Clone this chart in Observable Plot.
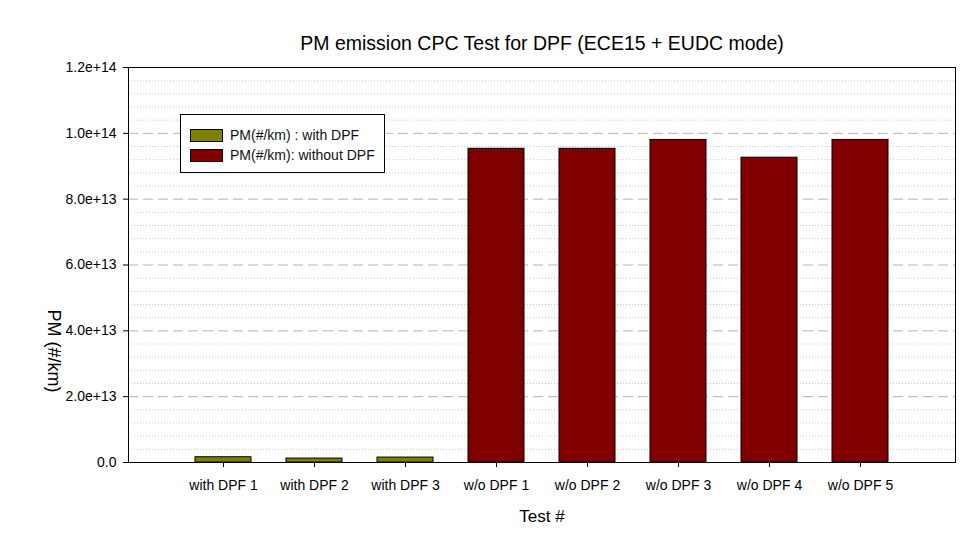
<!DOCTYPE html>
<html>
<head>
<meta charset="utf-8">
<script src="https://cdn.jsdelivr.net/npm/d3@7"></script>
<script src="https://cdn.jsdelivr.net/npm/@observablehq/plot@0.6"></script>
<style>
  html, body { margin: 0; padding: 0; background: #fff; }
  #wrap { position: relative; width: 975px; height: 540px; font-family: "Liberation Sans", Arial, sans-serif; }
  #legend { position: absolute; left: 180px; top: 114px; width: 203px; height: 57px; border: 1px solid #000; background: #fff; }
  .row { position: absolute; left: 9px; display: flex; align-items: center; font-size: 14px; color: #111; }
  .sw { width: 31px; height: 11px; border: 1px solid #000; margin-right: 7px; }
</style>
</head>
<body>
<div id="wrap"></div>
<script>
const categories = ["with DPF 1", "with DPF 2", "with DPF 3", "w/o DPF 1", "w/o DPF 2", "w/o DPF 3", "w/o DPF 4", "w/o DPF 5"];
const pmValues = [1.6e12, 1.2e12, 1.5e12, 9.53e13, 9.53e13, 9.8e13, 9.26e13, 9.8e13];
const seriesOf = ["PM(#/km) : with DPF", "PM(#/km) : with DPF", "PM(#/km) : with DPF", "PM(#/km): without DPF", "PM(#/km): without DPF", "PM(#/km): without DPF", "PM(#/km): without DPF", "PM(#/km): without DPF"];
const seriesNames = ["PM(#/km) : with DPF", "PM(#/km): without DPF"];
const seriesColors = ["#808000", "#800000"];
const yTicks = [0, 2e13, 4e13, 6e13, 8e13, 1e14, 1.2e14];
const majorGrid = [2e13, 4e13, 6e13, 8e13, 1e14];
const minorGrid = d3.range(4e12, 1.2e14, 4e12).filter(v => Math.abs(v / 2e13 - Math.round(v / 2e13)) > 1e-6);
const titleText = "PM emission CPC Test for DPF (ECE15 + EUDC mode)";
const xLabel = "Test #";
const yLabel = "PM (#/km)";

const data = categories.map((c, i) => ({cat: c, value: pmValues[i], series: seriesOf[i]}));

const chart = Plot.plot({
  width: 975,
  height: 540,
  marginLeft: 128,
  marginRight: 20,
  marginTop: 67,
  marginBottom: 78,
  style: {fontFamily: "Liberation Sans, Arial, sans-serif", color: "#000", background: "#fff"},
  x: {type: "band", domain: categories, paddingInner: 0.39, paddingOuter: 0.695, axis: null},
  y: {domain: [0, 1.2e14], axis: null},
  color: {domain: seriesNames, range: seriesColors},
  marks: [
    Plot.ruleY(minorGrid, {stroke: "#c8c8c8", strokeDasharray: "1,2", strokeWidth: 1}),
    Plot.ruleY(majorGrid, {stroke: "#b4b4b4", strokeDasharray: "10,5", strokeWidth: 1}),
    Plot.barY(data, {x: "cat", y: "value", fill: "series", stroke: "#000", strokeWidth: 1}),
    Plot.frame({stroke: "#000", strokeWidth: 1}),
    Plot.axisY({ticks: yTicks, tickFormat: d => d === 0 ? "0.0" : d.toExponential(1), tickSize: 5, tickPadding: 7, fontSize: 14, label: null}),
    Plot.axisX({tickSize: 5, tickPadding: 13, fontSize: 14, label: null}),
    Plot.text([titleText], {frameAnchor: "top", dy: -23.5, fontSize: 19.5, lineAnchor: "middle", textAnchor: "middle", fill: "#000"}),
    Plot.text([xLabel], {frameAnchor: "bottom", dy: 54.5, fontSize: 17, lineAnchor: "middle", textAnchor: "middle", fill: "#000"}),
    Plot.text([yLabel], {frameAnchor: "left", dx: -75, dy: 86, rotate: 90, fontSize: 18, lineAnchor: "middle", textAnchor: "middle", fill: "#000"})
  ]
});

const wrap = document.getElementById("wrap");
wrap.appendChild(chart);

const legend = document.createElement("div");
legend.id = "legend";
seriesNames.forEach((name, i) => {
  const row = document.createElement("div");
  row.className = "row";
  row.style.top = (i === 0 ? 12 : 32) + "px";
  const sw = document.createElement("div");
  sw.className = "sw";
  sw.style.background = seriesColors[i];
  const lab = document.createElement("span");
  lab.textContent = name;
  row.appendChild(sw);
  row.appendChild(lab);
  legend.appendChild(row);
});
wrap.appendChild(legend);
</script>
</body>
</html>
